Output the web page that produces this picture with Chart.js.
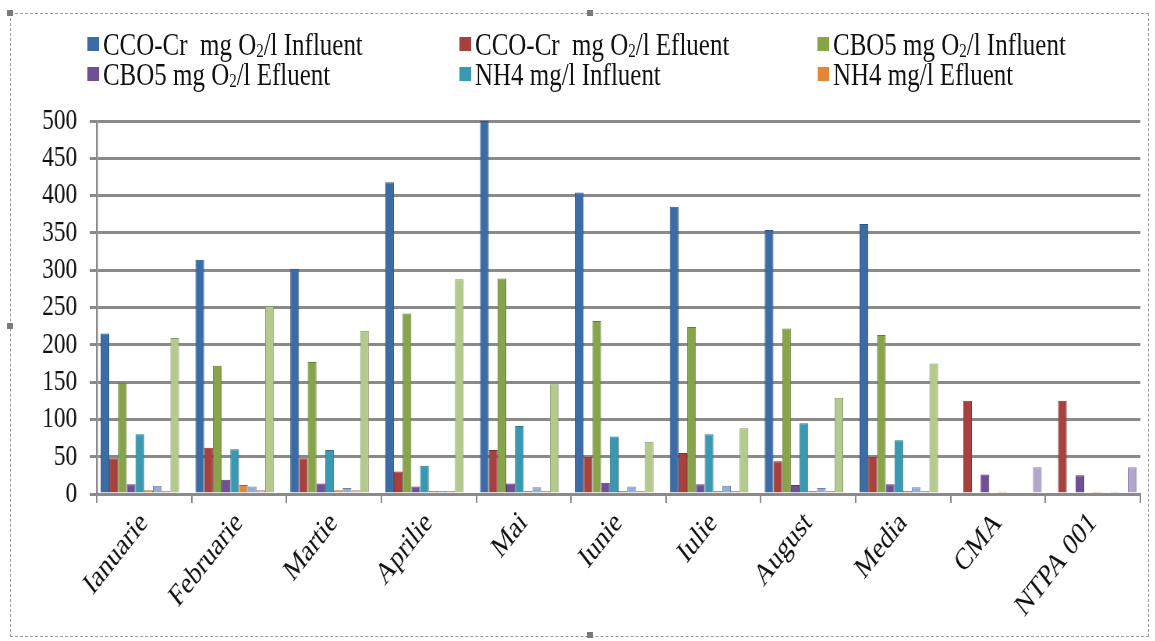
<!DOCTYPE html>
<html>
<head>
<meta charset="utf-8">
<script src="https://cdn.jsdelivr.net/npm/chart.js@4.4.1/dist/chart.umd.min.js"></script>
<style>
  html, body { margin: 0; padding: 0; background: #fff; }
  #page { position: relative; width: 1155px; height: 641px; overflow: hidden; }
  #squeeze { position: absolute; left: 0; top: 0; width: 1481px; height: 641px;
             transform: scaleX(0.78); transform-origin: 0 0; }
  #chart-box { position: absolute; left: 0; top: 0; width: 1481px; height: 641px; }
  #frame { position: absolute; left: 10px; top: 13px; width: 1137px; height: 622px;
           border: 1px dashed #9a9a9a; }
  .handle { position: absolute; width: 6px; height: 6px; background: #7a7a7a; }
  .leg { position: absolute; font-family: "Liberation Serif", "Times New Roman", serif;
         font-size: 32px; line-height: 32px; color: #111; white-space: pre; }
  .leg i { position: absolute; left: -20px; top: 9px; width: 15px; height: 14px; }
  .leg .sub { font-size: 60%; vertical-align: -0.1em; }
</style>
</head>
<body>
<div id="page">
  <div id="squeeze">
    <div id="chart-box"><canvas id="marketChart" width="1481" height="641"></canvas></div>
    <div id="legend"></div>
  </div>
  <div id="frame"></div>
  <div class="handle" style="left:7px;top:10px"></div>
  <div class="handle" style="left:587px;top:10px"></div>
  <div class="handle" style="left:7px;top:323px"></div>
  <div class="handle" style="left:587px;top:632px"></div>
</div>
<script>
const categories = ['Ianuarie', 'Februarie', 'Martie', 'Aprilie', 'Mai', 'Iunie', 'Iulie', 'August', 'Media', 'CMA', 'NTPA 001'];

const seriesNames = ['CCO-Cr  mg O₂/l Influent', 'CCO-Cr  mg O₂/l Efluent', 'CBO5 mg O₂/l Influent',
                     'CBO5 mg O₂/l Efluent', 'NH4 mg/l Influent', 'NH4 mg/l Efluent',
                     'Seria 7', 'Seria 8', 'Seria 9', 'Seria 10'];

// values
const ccoInfluent = [215, 314, 302, 418, 500, 404, 385, 354, 362, null, null];
const ccoEfluent  = [48, 62, 48, 30, 59, 50, 55, 44, 50, 125, 125];
const cboInfluent = [149, 172, 177, 242, 289, 232, 224, 222, 213, null, null];
const cboEfluent  = [13, 19, 14, 10, 14, 15, 13, 12, 13, 26, 25];
const nh4Influent = [80, 60, 59, 38, 91, 77, 80, 95, 72, null, null];
const nh4Efluent  = [5, 12, 5, 4, 4, 4, 4, 4, 4, 3, 3];
// series without legend entries
const seria7  = [11, 10, 8, 4, 9, 10, 11, 8, 9, null, null];
const seria8  = [4, 5, 5, 4, 4, 4, 4, 4, 4, null, 3];
const seria9  = [209, 252, 219, 288, 147, 70, 88, 129, 175, null, null];
const seria10 = [2, 2, 2, 2, 2, 2, 2, 2, 2, 36, 36];

const yTicks = [0, 50, 100, 150, 200, 250, 300, 350, 400, 450, 500];

const allSeries = [ccoInfluent, ccoEfluent, cboInfluent, cboEfluent, nh4Influent, nh4Efluent, seria7, seria8, seria9, seria10];
const colors  = ['#3b6ca6', '#a8403d', '#88a44a', '#6f4f96', '#3a99b2', '#e3883a', '#92acd8', '#e0a0a0', '#b4ca8c', '#b2a6cc'];
const borders = ['#2c527f', '#7e2f2d', '#667b37', '#523a70', '#2b7386', '#a9662b', '#6d81a2', '#a87878', '#879769', '#857c99'];

// legend (only the first six series have entries, like the original)
const legendPos = [[132, 28], [609, 28], [1068, 28], [132, 58], [609, 58], [1068, 58]];
const legend = document.getElementById('legend');
legendPos.forEach((p, i) => {
    const d = document.createElement('div');
    d.className = 'leg';
    d.style.left = p[0] + 'px';
    d.style.top = p[1] + 'px';
    d.innerHTML = '<i style="background:' + colors[i] + '"></i>' +
        seriesNames[i].replace('₂', '<span class="sub">2</span>');
    legend.appendChild(d);
});

const ctx = document.getElementById('marketChart').getContext('2d');
const gridColor = '#8a8a8a';

new Chart(ctx, {
    type: 'bar',
    data: {
        labels: categories,
        datasets: allSeries.map((data, i) => ({
            label: seriesNames[i],
            data: data,
            backgroundColor: colors[i],
            borderColor: borders[i],
            borderWidth: 1,
            categoryPercentage: 0.92,
            barPercentage: 1.0
        }))
    },
    options: {
        responsive: false,
        animation: false,
        layout: { padding: { top: 121, right: 19, left: 0, bottom: 0 } },
        scales: {
            x: {
                grid: { display: true, drawOnChartArea: false, color: gridColor, lineWidth: 2, tickLength: 9, offset: true },
                border: { display: true, color: gridColor, width: 2.5 },
                ticks: {
                    color: '#111',
                    font: { family: 'Liberation Serif', size: 31 },
                    minRotation: 45, maxRotation: 45, padding: 2, autoSkip: false
                },
                afterFit: (s) => { s.height = 147; }
            },
            y: {
                min: 0, max: 500,
                afterBuildTicks: (s) => { s.ticks = yTicks.map(v => ({ value: v })); },
                grid: { color: gridColor, lineWidth: 3, tickLength: 9 },
                border: { display: true, color: gridColor, width: 2.5 },
                ticks: {
                    color: '#111', padding: 16, autoSkip: false,
                    font: { family: 'Liberation Serif', size: 30 }
                },
                afterFit: (s) => { s.width = 124; }
            }
        },
        plugins: { legend: { display: false }, tooltip: { enabled: false } }
    }
});
</script>
</body>
</html>
